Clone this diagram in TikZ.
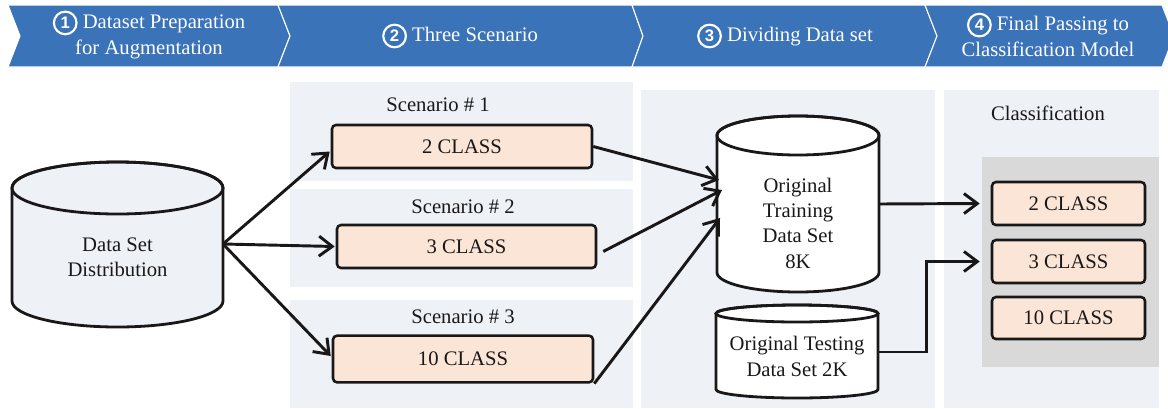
\documentclass[tikz,border=0pt]{standalone}
\usepackage{fontspec}
\setmainfont{Liberation Serif}
\setsansfont{Liberation Sans}
\usetikzlibrary{arrows.meta,calc}
\definecolor{hblue}{HTML}{3B73B9}
\definecolor{panel}{HTML}{EEF2F6}
\definecolor{peach}{HTML}{FBE5D6}
\definecolor{innergray}{HTML}{D9D9D9}
\definecolor{ink}{HTML}{1A1718}
\newcommand{\cnum}[1]{\tikz[baseline=(cn.base)]\node[circle,draw=white,line width=1.6pt,inner sep=0pt,minimum size=17pt,text=white,font=\sffamily\bfseries\fontsize{12.5}{12.5}\selectfont](cn){#1};}
\newcommand{\drawcyl}[6]{%
  \path[cylline,fill=#6] ({#1-#4},#2) -- ({#1-#4},#3)
    arc[start angle=180,end angle=360,x radius={#4*0.75pt},y radius={#5*0.75pt}]
    -- ({#1+#4},#2)
    arc[start angle=0,end angle=180,x radius={#4*0.75pt},y radius={#5*0.75pt}] -- cycle;
  \draw[cylline] (#1,#2) ellipse[x radius={#4*0.75pt},y radius={#5*0.75pt}];}
\begin{document}
\begin{tikzpicture}[x=0.75pt,y=-0.75pt,
  chev/.style={fill=hblue,draw=white,line width=0.8pt},
  htext/.style={text=white,align=center,font=\fontsize{15.5}{19}\selectfont},
  txt/.style={text=ink,align=center,font=\fontsize{15.5}{19}\selectfont},
  classbox/.style={draw=ink,fill=peach,line width=1.9pt,rounded corners=3pt,txt,inner sep=0pt},
  cylline/.style={draw=ink,line width=2.1pt},
  arr/.style={draw=ink,line width=2.2pt,-{Straight Barb[length=10pt,width=15pt]}}
]
\useasboundingbox (0,0) rectangle (1168,408);
% header chevrons
\path[chev] (8,5) -- (278,5) -- (290,36) -- (278,67) -- (8,67) -- (20,36) -- cycle;
\path[chev] (278,5) -- (632,5) -- (643,36) -- (632,67) -- (278,67) -- (290,36) -- cycle;
\path[chev] (632,5) -- (925,5) -- (937,36) -- (925,67) -- (632,67) -- (643,36) -- cycle;
\path[chev] (925,5) -- (1162,5) -- (1174,36) -- (1162,67) -- (925,67) -- (937,36) -- cycle;
\node[htext] (h1) at (149,34.5) {\cnum{1} Dataset Preparation\\for Augmentation};
\node[htext] (h2) at (460,36) {\cnum{2} Three Scenario};
\node[htext] (h3) at (785,36) {\cnum{3} Dividing Data set};
\node[htext] (h4) at (1048,34.5) {\cnum{4} Final Passing to\\Classification Model};
% panels
\fill[panel] (290,82) rectangle (633,181);
\fill[panel] (290,189) rectangle (633,287);
\fill[panel] (290,300) rectangle (633,408);
\fill[panel] (641,90) rectangle (935,408);
\fill[panel] (944,90) rectangle (1159,408);
\fill[innergray] (982,157) rectangle (1159,367);
% cylinders
\drawcyl{117.5}{188}{301}{105.5}{26}{panel}
\drawcyl{798}{135.5}{272.5}{81}{19.5}{white}
\drawcyl{797}{313.5}{389.5}{81}{8.5}{white}
\node[txt] (dsd) at (117.5,257) {Data Set\\Distribution};
\node[txt] (train) at (798,223) {Original\\Training\\Data Set\\8K};
\node[txt] (test) at (797,356.5) {Original Testing\\Data Set 2K};
% scenario labels and boxes
\node[txt] (s1) at (438,105) {Scenario \# 1};
\node[txt] (s2) at (463,207) {Scenario \# 2};
\node[txt] (s3) at (463,317) {Scenario \# 3};
\node[classbox,minimum width=195pt,minimum height=32.25pt] (b1) at (462,146.5) {2 CLASS};
\node[classbox,minimum width=194.25pt,minimum height=32.25pt] (b2) at (466.5,246.5) {3 CLASS};
\node[classbox,minimum width=195pt,minimum height=35pt] (b3) at (463,359) {10 CLASS};
% classification
\node[txt] (cl) at (1048,113) {Classification};
\node[classbox,minimum width=114.75pt,minimum height=32.25pt] (c1) at (1068.5,203.5) {2 CLASS};
\node[classbox,minimum width=114.75pt,minimum height=32.25pt] (c2) at (1068.5,261.5) {3 CLASS};
\node[classbox,minimum width=114.75pt,minimum height=31.5pt] (c3) at (1068.5,318) {10 CLASS};
% connectors
\coordinate (dsdR) at (223,244);
\coordinate (tin1) at (719,180);
\coordinate (tin2) at (722,190);
\coordinate (tin3) at (720,218);
\coordinate (trainR) at (879,204);
\coordinate (testR) at (878,352);
\draw[arr] (dsdR) -- ($(b1.west)+(-1,5)$);
\draw[arr] (dsdR) -- ($(b2.west)+(-1,0)$);
\draw[arr] (dsdR) -- ($(b3.west)+(-1,-3)$);
\draw[arr] (b1.east) -- (tin1);
\draw[arr] ($(b2.east)+(6,5)$) -- (tin2);
\draw[arr] (b3.south east) -- (tin3);
\draw[arr] (trainR) -- ($(c1.west)+(-11,0)$);
\draw[arr] (testR) -| ($(c2.west)+(-64,0)$) -- ($(c2.west)+(-11,0)$);
\end{tikzpicture}
\end{document}
